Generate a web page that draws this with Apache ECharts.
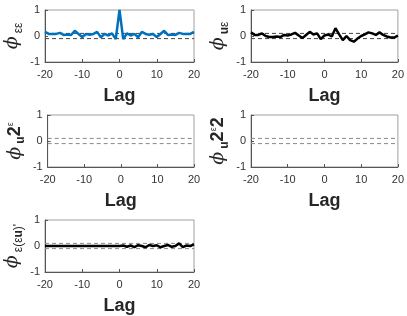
<!DOCTYPE html>
<html>
<head>
<meta charset="utf-8">
<script src="https://cdn.jsdelivr.net/npm/echarts@6/dist/echarts.min.js"></script>
<style>
  html, body { margin: 0; padding: 0; background: #fff; }
  #chart { width: 407px; height: 316px; }
</style>
</head>
<body>
<div id="chart"></div>
<script>
(function() {
  // lags -20..20
  var lags = [];
  for (var k = -20; k <= 20; k++) lags.push(k);

  // residual autocorrelation (phi_ee)
  var phiEE = [0.16, 0.08, 0.08, 0.08, 0.12, 0.04, 0.06, 0.04, 0.2, 0.08, -0.04,
               0.08, 0.05, 0.08, 0.16, -0.05, 0.08, 0.02, 0.1, -0.12,
               1.0,
               -0.12, 0.1, 0.02, 0.08, -0.05, 0.16, 0.08, 0.05, 0.08, -0.04,
               0.08, 0.2, 0.04, 0.06, 0.04, 0.12, 0.08, 0.08, 0.08, 0.16];
  // input-residual cross correlation (phi_ue)
  var phiUE = [0.14, 0.04, 0.04, 0.1, 0.0, -0.04, -0.04, -0.02, -0.04, 0.04, 0.02,
               0.06, 0.12, 0.02, -0.08, 0.04, 0.16, 0.06, 0.1, -0.12,
               0.02,
               0.06, -0.02, 0.3, 0.06, -0.16, 0.0, -0.16, -0.22, -0.1, 0.0,
               0.06, 0.14, 0.1, 0.04, 0.14, 0.04, -0.02, -0.06, -0.06, 0.02];
  // phi_e(eu)
  var phiEEU = [0, 0, 0, 0, 0, 0, 0, 0, 0, 0, 0,
                0, 0, 0, 0, 0, 0, 0, 0, 0,
                0,
                0.02, -0.03, 0.02, -0.04, 0.03, 0.0, -0.05, 0.04, 0.0, 0.03,
                -0.05, 0.0, 0.04, -0.03, 0.0, 0.1, -0.04, 0.02, 0.0, 0.06];
  var bound = 0.1;
  var xTicks = [-20, 20, 10];
  var yTicks = [-1, 1, 1];

  var panels = [
    { left: 45, top: 10, data: phiEE, color: '#0072BD', dash: '#444',
      name: '{phi|ϕ}{sub|εε}' },
    { left: 251, top: 10, data: phiUE, color: '#000', dash: '#444',
      name: '{phi|ϕ}{subb|u}{sub|ε}' },
    { left: 45, top: 115, data: null, dash: '#888',
      name: '{phi|ϕ}{subb|u}{big|2}{sup|ε}' },
    { left: 251, top: 115, data: null, dash: '#888',
      name: '{phi|ϕ}{subb|u}{big|2}{sup|ε}{big|2}' },
    { left: 45, top: 220, data: phiEEU, color: '#000', dash: '#888',
      name: '{phi|ϕ}{sub|ε(ε}{subb|u}{sub|)\'}' }
  ];

  var rich = {
    phi: { fontFamily: 'DejaVu Serif', fontStyle: 'italic', fontSize: 19, color: '#262626', lineHeight: 28, verticalAlign: 'middle', padding: [0, 3, 0, 0] },
    sub: { fontFamily: 'Liberation Sans', fontSize: 12, color: '#262626', verticalAlign: 'bottom', lineHeight: 28, padding: [0, 0, 2, 0] },
    subb: { fontFamily: 'Liberation Sans', fontSize: 12, fontWeight: 'bold', color: '#262626', verticalAlign: 'bottom', lineHeight: 28, padding: [0, 0, 2, 0] },
    big: { fontFamily: 'Liberation Sans', fontSize: 18, fontWeight: 'bold', color: '#262626', verticalAlign: 'middle', lineHeight: 28 },
    sup: { fontFamily: 'Liberation Sans', fontSize: 9, color: '#262626', verticalAlign: 'top', lineHeight: 28, padding: [5, 0, 0, 0] }
  };

  var grid = [], xAxis = [], yAxis = [], series = [];
  panels.forEach(function(p, i) {
    grid.push({ left: p.left, top: p.top, width: 149, height: 52,
      show: true, borderColor: '#a0a0a0', borderWidth: 1, backgroundColor: '#fff' });
    xAxis.push({
      type: 'value', gridIndex: i, min: xTicks[0], max: xTicks[1], interval: xTicks[2],
      name: 'Lag', nameLocation: 'middle', nameGap: 25,
      nameTextStyle: { fontFamily: 'Liberation Sans', fontSize: 18, fontWeight: 'bold', color: '#262626' },
      axisLine: { show: true, onZero: false, lineStyle: { color: '#555', width: 1 } },
      axisTick: { inside: true, length: 3, lineStyle: { color: '#555' } },
      axisLabel: { fontFamily: 'Liberation Sans', fontSize: 11, color: '#333', margin: 7 },
      splitLine: { show: false }
    });
    yAxis.push({
      type: 'value', gridIndex: i, min: yTicks[0], max: yTicks[1], interval: yTicks[2],
      name: p.name, nameLocation: 'middle', nameGap: 14, nameRotate: 90,
      nameTextStyle: { rich: rich },
      axisLine: { show: true, onZero: false, lineStyle: { color: '#555', width: 1 } },
      axisTick: { inside: true, length: 3, lineStyle: { color: '#555' } },
      axisLabel: { fontFamily: 'Liberation Sans', fontSize: 11, color: '#333', margin: 5 },
      splitLine: { show: false }
    });
    [bound, -bound].forEach(function(b) {
      series.push({
        type: 'line', xAxisIndex: i, yAxisIndex: i, symbol: 'none', silent: true,
        lineStyle: { color: p.dash, width: 1, type: [4, 3] },
        data: [[lags[0], b], [lags[lags.length - 1], b]]
      });
    });
    if (p.data) {
      series.push({
        type: 'line', xAxisIndex: i, yAxisIndex: i, symbol: 'none',
        lineStyle: { color: p.color, width: 2.5 },
        data: lags.map(function(l, j) { return [l, p.data[j]]; })
      });
    }
  });

  var chart = echarts.init(document.getElementById('chart'), null, { renderer: 'canvas' });
  chart.setOption({
    animation: false,
    backgroundColor: '#fff',
    grid: grid, xAxis: xAxis, yAxis: yAxis, series: series
  });
  window.addEventListener('resize', function() { chart.resize(); });
})();
</script>
</body>
</html>
